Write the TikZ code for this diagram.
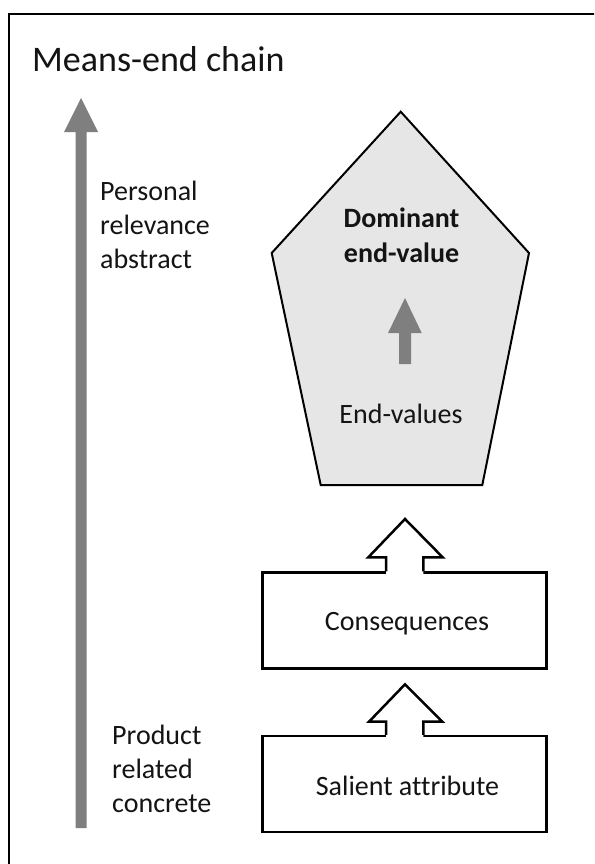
\documentclass[tikz,border=0pt]{standalone}
\usepackage{fontspec}
\setmainfont{Carlito}[Ligatures=NoCommon]
\definecolor{arrgray}{RGB}{127,127,127}
\definecolor{pentfill}{RGB}{230,230,230}
\definecolor{txt}{RGB}{20,20,20}
\tikzset{
  lbl/.style={font=\fontsize{28}{34}\selectfont, text=txt, inner sep=0pt},
  titlelbl/.style={font=\fontsize{36}{42}\selectfont, text=txt, inner sep=0pt},
  boldlbl/.style={font=\fontsize{28}{34}\selectfont\bfseries, text=txt, inner sep=0pt},
  boxshape/.style={draw=black, line width=2.5pt, fill=white, rectangle, inner sep=0pt,
    minimum width=284pt, minimum height=96pt},
  grayarrow/.style={fill=arrgray, draw=none},
  hollow/.style={draw=black, line width=2.5pt, line join=miter},
}
\begin{document}
\begin{tikzpicture}[x=1pt,y=-1pt]
\useasboundingbox (0,0) rectangle (594,864);
\clip (0,0) rectangle (594,864);
\fill[white] (0,0) rectangle (594,864);
% outer frame (continues past right and bottom edges)
\draw[line width=2.7pt] (9,14) rectangle (640,900);

% title
\node[titlelbl, anchor=base west] (title) at (32,72) {Means-end chain};

% big gray vertical arrow
\coordinate (bigtip) at (81,98);
\coordinate (bigfoot) at (81,828);
\fill[grayarrow] (75.5,828) -- (75.5,132) -- (64,132) -- (bigtip) -- (98,132) -- (86.5,132) -- (86.5,828) -- cycle;

% left labels
\node[lbl, anchor=base west] (p1) at (100,200) {Personal};
\node[lbl, anchor=base west] (p2) at (100,234) {relevance};
\node[lbl, anchor=base west] (p3) at (100,268) {abstract};
\node[lbl, anchor=base west] (q1) at (112,744) {Product};
\node[lbl, anchor=base west] (q2) at (112,778) {related};
\node[lbl, anchor=base west] (q3) at (112,812) {concrete};

% pentagon
\coordinate (pt) at (400.7,111.7);
\coordinate (pr) at (529,253);
\coordinate (pbr) at (482.3,485);
\coordinate (pbl) at (320.7,485);
\coordinate (pl) at (271.7,253);
\draw[fill=pentfill, line width=2pt, line join=miter] (pt) -- (pr) -- (pbr) -- (pbl) -- (pl) -- cycle;
\node[boldlbl, anchor=base] (dom1) at (401.5,227) {Dominant};
\node[boldlbl, anchor=base] (dom2) at (401.5,262) {end-value};
\node[lbl, anchor=base] (endv) at (401,423) {End-values};
% small gray arrow inside pentagon
\fill[grayarrow] (399,364) -- (399,333) -- (388,333) -- (405,298) -- (421.7,333) -- (411,333) -- (411,364) -- cycle;

% boxes
\node[boxshape] (cons) at (404.7,620.5) {};
\node[lbl, anchor=base] (consT) at (407,630) {Consequences};
\node[boxshape] (sal) at (404.7,784) {};
\node[lbl, anchor=base] (salT) at (407.5,795) {Salient attribute};

% hollow block arrows
\coordinate (cL) at ([xshift=-18.7pt]cons.north);
\coordinate (cR) at ([xshift=18.6pt]cons.north);
\coordinate (sL) at ([xshift=-18.7pt]sal.north);
\coordinate (sR) at ([xshift=18.6pt]sal.north);
\fill[white] (386,575) -- (386,557.3) -- (368.3,557.3) -- (405,519) -- (442.7,557.3) -- (423.3,557.3) -- (423.3,575) -- cycle;
\draw[hollow] (cL) -- (386,557.3) -- (368.3,557.3) -- (405,519) -- (442.7,557.3) -- (423.3,557.3) -- (cR);
\fill[white] (386,738.5) -- (386,721.7) -- (369,721.7) -- (405,684.3) -- (442.3,721.7) -- (423.3,721.7) -- (423.3,738.5) -- cycle;
\draw[hollow] (sL) -- (386,721.7) -- (369,721.7) -- (405,684.3) -- (442.3,721.7) -- (423.3,721.7) -- (sR);
\end{tikzpicture}
\end{document}
